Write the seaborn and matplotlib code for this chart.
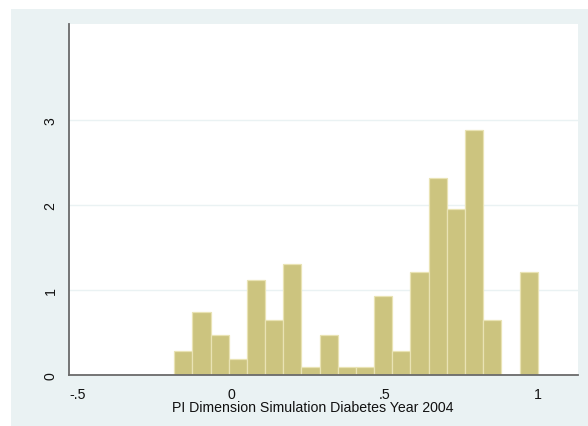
import numpy as np
import pandas as pd
import matplotlib
matplotlib.use("Agg")
import matplotlib.pyplot as plt
from matplotlib.patches import Rectangle
import seaborn as sns

# ---- data ----
counts = [3, 8, 5, 2, 12, 7, 14, 1, 5, 1, 1, 10, 3, 13, 25, 21, 31, 7, 0, 13]
bin_start = -0.1849
bin_width = 0.05925
x_ticks = [-0.5, 0, 0.5, 1]
x_tick_labels = ["-.5", "0", ".5", "1"]
y_ticks = [0, 1, 2, 3]
y_tick_labels = ["0", "1", "2", "3"]
x_label = "PI Dimension Simulation Diabetes Year 2004"

edges = [float(bin_start + bin_width * i) for i in range(len(counts) + 1)]
centers = [(a + b) / 2 for a, b in zip(edges[:-1], edges[1:])]
df = pd.DataFrame({"x": centers, "n": counts})

sns.set_style("white")
plt.rcParams["font.family"] = ["Liberation Sans", "DejaVu Sans"]

W, H = 588, 427
fig = plt.figure(figsize=(W / 100, H / 100), dpi=100, facecolor="white")
fig.patches.append(Rectangle((11 / W, 0), 1 - 11 / W, 1 - 10 / H,
                             transform=fig.transFigure, facecolor="#EAF2F3",
                             edgecolor="none", zorder=-10))

left, right, bottom, top = 69.3, 577.7, 375.7, 25
ax = fig.add_axes([left / W, 1 - bottom / H, (right - left) / W, (bottom - top) / H])
ax.set_zorder(5)
ax.set_facecolor("white")

sns.histplot(data=df, x="x", weights="n", bins=edges, stat="density",
             color="#CCC47F", edgecolor="#E9E3B4", linewidth=0.9, alpha=1, ax=ax)

ax.set_xlim(-0.527, 1.1305)
ax.set_ylim(0, 4.126)
ax.set_xticks(x_ticks)
ax.set_xticklabels(x_tick_labels)
ax.set_yticks(y_ticks)
ax.set_yticklabels(y_tick_labels, rotation=90, va="center")
ax.set_ylabel("")
ax.set_xlabel(x_label, fontsize=10.2, color="#111111")
ax.xaxis.set_label_coords(0.479, -0.104, transform=ax.transAxes)
ax.xaxis.label.set_va("baseline")

ax.yaxis.grid(True, color="#EAF2F3", linewidth=1)
ax.set_axisbelow(True)

for s in ["top", "right"]:
    ax.spines[s].set_visible(False)
for s in ["left", "bottom"]:
    ax.spines[s].set_color("#6A6A6A")
    ax.spines[s].set_linewidth(1.3)

ax.tick_params(axis="both", direction="out", length=5, width=1, color="#6A6A6A",
               labelsize=10.2, labelcolor="#111111")
ax.tick_params(axis="y", pad=3.5)
ax.tick_params(axis="x", pad=3.5)

fig.savefig("out.png", dpi=100, facecolor="white")
